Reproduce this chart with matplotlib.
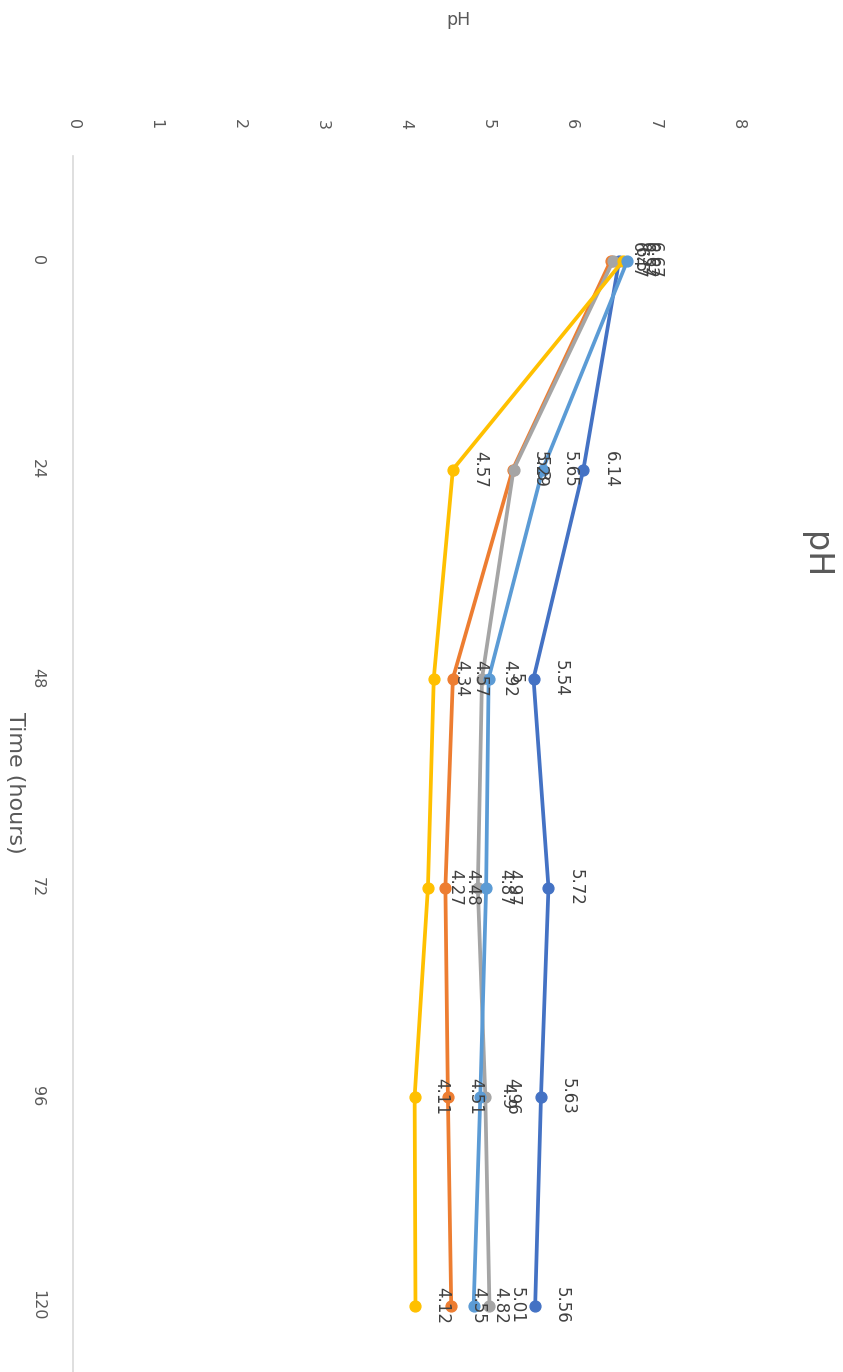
import matplotlib
matplotlib.use("Agg")
import matplotlib.pyplot as plt

# Sampling times (hours) and pH readings for each series
times = ["0", "24", "48", "72", "96", "120"]
ph_series1 = [6.57, 6.14, 5.54, 5.72, 5.63, 5.56]
ph_series2 = [6.47, 5.29, 4.57, 4.48, 4.51, 4.55]
ph_series3 = [6.50, 5.30, 4.92, 4.87, 4.96, 5.01]
ph_series4 = [6.62, 4.57, 4.34, 4.27, 4.11, 4.12]
ph_series5 = [6.67, 5.65, 5.00, 4.97, 4.90, 4.82]
ph_ticks = [0, 1, 2, 3, 4, 5, 6, 7, 8]

series = [ph_series1, ph_series2, ph_series3, ph_series4, ph_series5]
colors = ["#4472C4", "#ED7D31", "#A5A5A5", "#FFC000", "#5B9BD5"]

W, H = 843, 1372
fig = plt.figure(figsize=(W / 100, H / 100), dpi=100)
fig.patch.set_facecolor("white")

# Plot area in pixel coordinates (the time axis runs downward, pH to the right)
left_px, right_px = 73, 738
top_px = 156
step_px = 209
bottom_px = top_px + step_px * len(times)
ax = fig.add_axes([left_px / W, 1 - bottom_px / H,
                   (right_px - left_px) / W, (bottom_px - top_px) / H])
ax.set_facecolor("none")

pos = list(range(len(times)))
for vals, col in zip(series, colors):
    ax.plot(vals, pos, color=col, lw=2.7, marker="o", ms=7.8,
            solid_capstyle="round", solid_joinstyle="round", clip_on=False)

for vals in series:
    for p, v in zip(pos, vals):
        ax.annotate(f"{v:g}", (v, p), xytext=(27, 0), textcoords="offset pixels",
                    ha="center", va="center", rotation=-90,
                    fontsize=12, color="#404040")

ax.set_xlim(0, 8)
ax.set_ylim(len(times) - 0.5, -0.5)

ax.set_xticks(ph_ticks)
ax.set_xticklabels([str(t) for t in ph_ticks])
ax.set_yticks(pos)
ax.set_yticklabels(times)
ax.tick_params(axis="x", bottom=False, labelbottom=False, top=False, labeltop=True,
               length=0, pad=19, labelrotation=-90, labelsize=11.5, labelcolor="#595959")
ax.tick_params(axis="y", left=False, length=0, pad=20, labelrotation=-90,
               labelsize=11.5, labelcolor="#595959")
for lab in ax.get_yticklabels():
    lab.set_va("center")
    lab.set_ha("right")

for side in ["top", "right", "bottom"]:
    ax.spines[side].set_visible(False)
ax.spines["left"].set_color("#D9D9D9")
ax.spines["left"].set_linewidth(1.2)

# Titles
fig.text(458 / W, 1 - 20 / H, "pH", ha="center", va="center",
         fontsize=12.5, color="#595959")
fig.text(15 / W, 1 - 783 / H, "Time (hours)", ha="center", va="center",
         rotation=-90, fontsize=16, color="#595959")
fig.text(815 / W, 1 - 555 / H, "pH", ha="center", va="center",
         rotation=-90, fontsize=24, color="#595959")

fig.savefig("out.png", dpi=100)
